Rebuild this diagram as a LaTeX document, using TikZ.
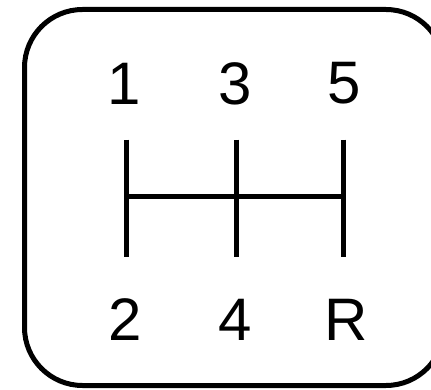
\documentclass[tikz,border=0pt]{standalone}
\usepackage{fontspec}
\setmainfont{Liberation Sans}
\begin{document}
\begin{tikzpicture}[x=1pt,y=1pt,
  gate/.style={line width=5pt},
  lbl/.style={inner sep=0pt,font=\fontsize{60}{60}\selectfont}]
\useasboundingbox (0,0) rectangle (431,389);
\begin{scope}
\clip (0,0) rectangle (431,389);
\draw[line width=5pt,rounded corners=58pt] (24.5,3.5) rectangle (444,379.5);
\end{scope}
% gate endpoints
\coordinate (t1) at (126.7,249.5);
\coordinate (b1) at (126.7,132.5);
\coordinate (t3) at (236,249.5);
\coordinate (b3) at (236,132.5);
\coordinate (t5) at (343.3,249.5);
\coordinate (b5) at (343.3,132.5);
\coordinate (m1) at (126.7,193);
\coordinate (m5) at (343.3,193);
\draw[gate] (t1) -- (b1);
\draw[gate] (t3) -- (b3);
\draw[gate] (t5) -- (b5);
\draw[gate] (m1) -- (m5);
\node[lbl] (g1) at (124,305.5) {1};
\node[lbl] (g3) at (235,305.5) {3};
\node[lbl] (g5) at (344,305.5) {5};
\node[lbl] (g2) at (125,69) {2};
\node[lbl] (g4) at (235,69) {4};
\node[lbl] (gR) at (346,69) {R};
\end{tikzpicture}
\end{document}
